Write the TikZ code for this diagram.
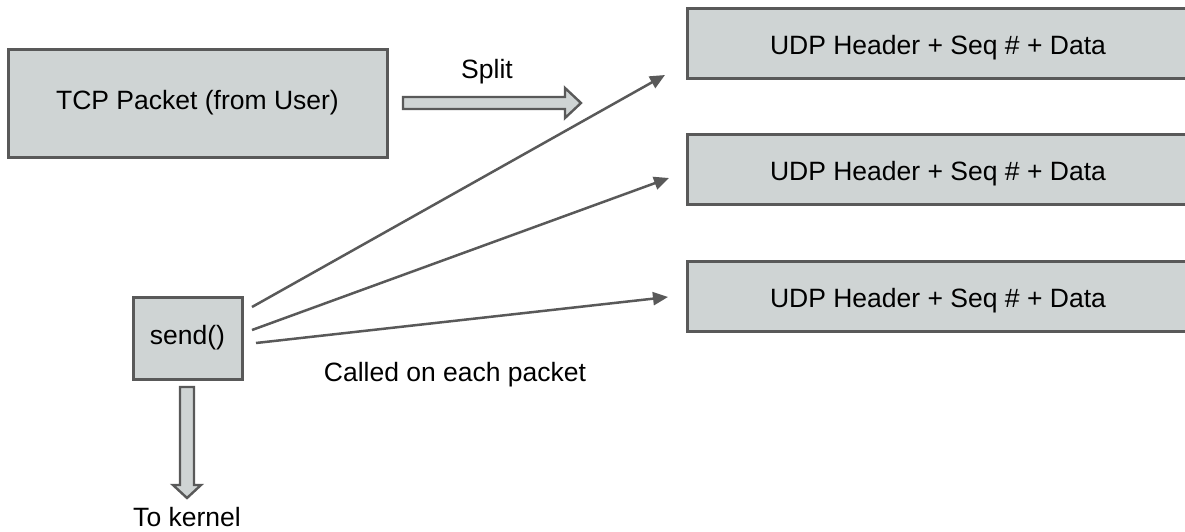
\documentclass[tikz,border=0pt]{standalone}
\usepackage{fontspec}
\setmainfont{Liberation Sans}
\usetikzlibrary{arrows.meta}
\definecolor{boxgray}{RGB}{207,212,212}
\definecolor{linegray}{RGB}{89,89,89}
\begin{document}
\begin{tikzpicture}[x=0.5pt,y=-0.5pt,
  txt/.style={font=\fontsize{13.25}{16}\selectfont, text=black, inner sep=0pt},
  box/.style={txt, draw=linegray, fill=boxgray, line width=1.5pt},
  udpbox/.style={box, minimum width=251pt, minimum height=35pt, text height=11.5pt, text depth=0pt},
  conn/.style={draw=linegray, line width=1.25pt, -{Triangle[length=7.5pt,width=6.5pt]}},
  blockarrow/.style={draw=linegray, fill=boxgray, line width=1.2pt, line join=miter}]
\useasboundingbox (0,0) rectangle (1185,531);
\clip (0,0) rectangle (1185,531);
% boxes
\node[box, minimum width=189.5pt, minimum height=54pt] (tcp) at (197.5,103) {TCP Packet (from User)};
\node[box, minimum width=54.5pt, minimum height=41pt] (send) at (187.5,338) {send()};
\node[udpbox] (udp1) at (938,43) {UDP Header + Seq \# + Data};
\node[udpbox] (udp2) at (938,169) {UDP Header + Seq \# + Data};
\node[udpbox] (udp3) at (938,296) {UDP Header + Seq \# + Data};
% labels
\node[txt] (split) at (487,72) {Split};
\node[txt] (called) at (455,375) {Called on each packet};
\node[txt] (kernel) at (187,517) {To kernel};
% block arrows
\draw[blockarrow] (403,97) -- (565,97) -- (565,88) -- (581,103) -- (565,118) -- (565,109) -- (403,109) -- cycle;
\draw[blockarrow] (180,387) -- (194,387) -- (194,485) -- (201,485) -- (187,498) -- (173,485) -- (180,485) -- cycle;
% connectors
\coordinate (a1) at (252,307); \coordinate (b1) at (665,75);
\coordinate (a2) at (252,330); \coordinate (b2) at (669,178);
\coordinate (a3) at (256,343); \coordinate (b3) at (668,297);
\draw[conn] (a1) -- (b1);
\draw[conn] (a2) -- (b2);
\draw[conn] (a3) -- (b3);
\end{tikzpicture}
\end{document}
